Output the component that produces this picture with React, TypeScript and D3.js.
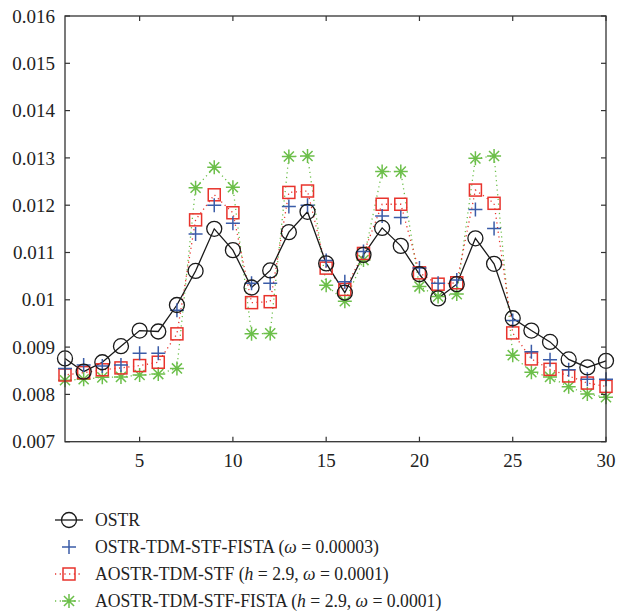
import React from "react";
import * as d3 from "d3";

const xs = d3.range(1, 31);
const ostr = [0.00876, 0.00848, 0.00868, 0.00902, 0.00935, 0.00933, 0.00989, 0.01061, 0.0115, 0.01105,
  0.01026, 0.01062, 0.01143, 0.01186, 0.01077, 0.01015, 0.01095, 0.01152, 0.01114, 0.01054,
  0.01003, 0.01033, 0.0113, 0.01076, 0.00961, 0.00935, 0.00911, 0.00874, 0.00857, 0.00871];
const fista = [0.00855, 0.00862, 0.0086, 0.00862, 0.00887, 0.00887, 0.00978, 0.01139, 0.012, 0.01162,
  0.01035, 0.01035, 0.01197, 0.012, 0.01083, 0.01038, 0.01102, 0.01177, 0.01174, 0.01067,
  0.01035, 0.01042, 0.01191, 0.01151, 0.00956, 0.0089, 0.00873, 0.00852, 0.00832, 0.00832];
const aostr = [0.00841, 0.00846, 0.00852, 0.00856, 0.00861, 0.00868, 0.00928, 0.01169, 0.01222, 0.01184,
  0.00994, 0.00996, 0.01227, 0.0123, 0.01067, 0.01022, 0.01098, 0.01202, 0.01202, 0.01057,
  0.01033, 0.01036, 0.01232, 0.01204, 0.0093, 0.00875, 0.00853, 0.00839, 0.00824, 0.00817];
const aostrFista = [0.0083, 0.00832, 0.00836, 0.00837, 0.00841, 0.00843, 0.00855, 0.01237, 0.0128, 0.01238,
  0.00928, 0.00929, 0.01303, 0.01304, 0.01031, 0.00997, 0.01084, 0.01271, 0.01271, 0.01028,
  0.01007, 0.01012, 0.01299, 0.01304, 0.00883, 0.00847, 0.00837, 0.00816, 0.00801, 0.00794];

const xTicks = [5, 10, 15, 20, 25, 30];
const yTicks = [0.007, 0.008, 0.009, 0.01, 0.011, 0.012, 0.013, 0.014, 0.015, 0.016];
const yTickLabels = ["0.007", "0.008", "0.009", "0.01", "0.011", "0.012", "0.013", "0.014", "0.015", "0.016"];

const BLACK = "#1a1a1a";
const BLUE = "#3b5ca8";
const RED = "#e8332c";
const GREEN = "#6cbf4a";
const FONT = "'Liberation Serif', 'Times New Roman', serif";

const W = 617, H = 612;
const L = 65, R = 606, T = 16, B = 441.7;

function Circle({ x, y }: { x: number; y: number }) {
  return <circle cx={x} cy={y} r={7.5} fill="none" stroke={BLACK} strokeWidth={1.3} />;
}
function Plus({ x, y }: { x: number; y: number }) {
  const s = 7;
  return <path d={`M${x - s},${y}H${x + s}M${x},${y - s}V${y + s}`} stroke={BLUE} strokeWidth={1.5} fill="none" />;
}
function Square({ x, y }: { x: number; y: number }) {
  const s = 6;
  return <rect x={x - s} y={y - s} width={2 * s} height={2 * s} fill="none" stroke={RED} strokeWidth={1.5} />;
}
function Star({ x, y }: { x: number; y: number }) {
  const s = 7;
  const d = s * 0.72;
  return (
    <path
      d={`M${x - s},${y}H${x + s}M${x},${y - s}V${y + s}M${x - d},${y - d}L${x + d},${y + d}M${x - d},${y + d}L${x + d},${y - d}`}
      stroke={GREEN}
      strokeWidth={1.5}
      fill="none"
    />
  );
}

export default function App() {
  const x = d3.scaleLinear().domain([1, 30]).range([L, R]);
  const y = d3.scaleLinear().domain([0.007, 0.016]).range([B, T]);
  const line = d3.line<number>().x((_, i) => x(xs[i])).y((v) => y(v));

  const legend = [
    { label: <>OSTR</>, kind: "o" },
    { label: <>OSTR-TDM-STF-FISTA (<tspan fontStyle="italic">ω</tspan> = 0.00003)</>, kind: "+" },
    { label: <>AOSTR-TDM-STF (<tspan fontStyle="italic">h</tspan> = 2.9, <tspan fontStyle="italic">ω</tspan> = 0.0001)</>, kind: "s" },
    { label: <>AOSTR-TDM-STF-FISTA (<tspan fontStyle="italic">h</tspan> = 2.9, <tspan fontStyle="italic">ω</tspan> = 0.0001)</>, kind: "*" },
  ];

  return (
    <svg width={W} height={H} style={{ position: "absolute", left: 0, top: 0, background: "#fff" }} fontFamily={FONT}>
      <rect x={0} y={0} width={W} height={H} fill="#fff" />
      {/* lines */}
      <path d={line(aostrFista) || ""} fill="none" stroke={GREEN} strokeWidth={1.3} strokeDasharray="1.2,3.5" />
      <path d={line(aostr) || ""} fill="none" stroke={RED} strokeWidth={1.3} strokeDasharray="1.2,3.5" strokeDashoffset={2} />
      <path d={line(ostr) || ""} fill="none" stroke={BLACK} strokeWidth={1.3} />
      {/* markers */}
      {aostrFista.map((v, i) => <Star key={"g" + i} x={x(xs[i])} y={y(v)} />)}
      {aostr.map((v, i) => <Square key={"r" + i} x={x(xs[i])} y={y(v)} />)}
      {fista.map((v, i) => <Plus key={"b" + i} x={x(xs[i])} y={y(v)} />)}
      {ostr.map((v, i) => <Circle key={"k" + i} x={x(xs[i])} y={y(v)} />)}
      {/* frame */}
      <rect x={L} y={T} width={R - L} height={B - T} fill="none" stroke="#333" strokeWidth={1.3} />
      {xTicks.map((t) => (
        <g key={"xt" + t}>
          <line x1={x(t)} x2={x(t)} y1={B} y2={B - 5} stroke="#333" strokeWidth={1.2} />
          <line x1={x(t)} x2={x(t)} y1={T} y2={T + 5} stroke="#333" strokeWidth={1.2} />
          <text x={x(t)} y={B + 25} textAnchor="middle" fontSize={19} fill="#222">{t}</text>
        </g>
      ))}
      {yTicks.map((t, i) => (
        <g key={"yt" + i}>
          <line x1={L} x2={L + 5} y1={y(t)} y2={y(t)} stroke="#333" strokeWidth={1.2} />
          <line x1={R} x2={R - 5} y1={y(t)} y2={y(t)} stroke="#333" strokeWidth={1.2} />
          <text x={L - 10} y={y(t)} dy="0.35em" textAnchor="end" fontSize={19} fill="#222">{yTickLabels[i]}</text>
        </g>
      ))}
      {/* legend */}
      {legend.map((e, i) => {
        const cy = 520 + i * 27;
        const cx = 69;
        return (
          <g key={"lg" + i}>
            {e.kind === "o" && <>
              <line x1={55} x2={83} y1={cy} y2={cy} stroke={BLACK} strokeWidth={1.3} />
              <Circle x={cx} y={cy} />
            </>}
            {e.kind === "+" && <Plus x={cx} y={cy} />}
            {e.kind === "s" && <>
              <line x1={55} x2={83} y1={cy} y2={cy} stroke={RED} strokeWidth={1.3} strokeDasharray="1.2,3.5" />
              <Square x={cx} y={cy} />
            </>}
            {e.kind === "*" && <>
              <line x1={55} x2={83} y1={cy} y2={cy} stroke={GREEN} strokeWidth={1.3} strokeDasharray="1.2,3.5" />
              <Star x={cx} y={cy} />
            </>}
            <text transform={`translate(95,${cy}) scale(0.93,1)`} dy="0.33em" fontSize={19} fill="#222">{e.label}</text>
          </g>
        );
      })}
    </svg>
  );
}
